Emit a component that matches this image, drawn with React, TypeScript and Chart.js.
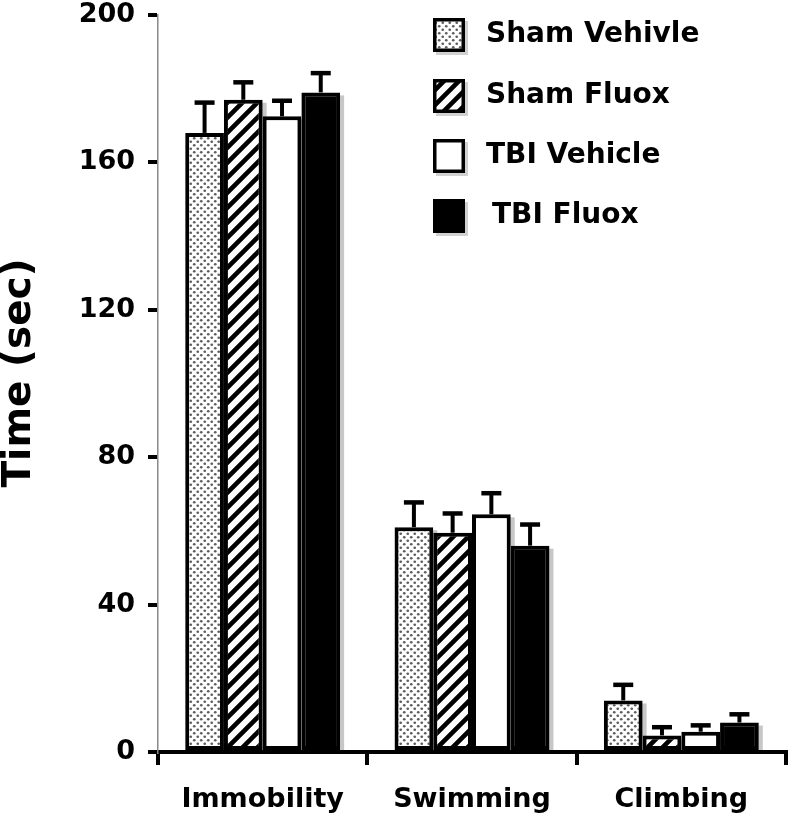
import React, { useEffect, useRef } from 'react';
import { Chart, registerables } from 'chart.js';

Chart.register(...registerables);

const categories = ['Immobility', 'Swimming', 'Climbing'];
const seriesNames = ['Sham Vehivle', 'Sham Fluox', 'TBI Vehicle', 'TBI Fluox'];
const shamVehicle = [168, 61, 14];
const shamVehicleErr = [8.5, 7, 4.5];
const shamFluox = [177, 59.5, 4.5];
const shamFluoxErr = [5, 5.5, 2.5];
const tbiVehicle = [172.5, 64.5, 5.5];
const tbiVehicleErr = [4.5, 6, 2];
const tbiFluox = [179, 56, 8];
const tbiFluoxErr = [5.5, 6, 2.5];
const yTickValues = [0, 40, 80, 120, 160, 200];
const yTitle = 'Time (sec)';

const FONT = "'DejaVu Sans', Verdana, sans-serif";

function makeDots(): CanvasPattern | string {
  const s = 7;
  const c = document.createElement('canvas');
  c.width = s;
  c.height = s;
  const g = c.getContext('2d');
  if (!g) return '#ccc';
  g.fillStyle = '#fff';
  g.fillRect(0, 0, s, s);
  g.fillStyle = '#5c5c5c';
  for (const [x, y] of [[1.75, 1.75], [5.25, 5.25]]) {
    g.beginPath();
    g.arc(x, y, 1.35, 0, Math.PI * 2);
    g.fill();
  }
  const p = g.createPattern(c, 'repeat');
  return p || '#ccc';
}

function makeHatch(): CanvasPattern | string {
  const s = 15;
  const c = document.createElement('canvas');
  c.width = s;
  c.height = s;
  const g = c.getContext('2d');
  if (!g) return '#888';
  g.fillStyle = '#fff';
  g.fillRect(0, 0, s, s);
  g.strokeStyle = '#000';
  g.lineWidth = 4.6;
  g.beginPath();
  g.moveTo(-3, s + 3);
  g.lineTo(s + 3, -3);
  g.moveTo(-4, 4);
  g.lineTo(4, -4);
  g.moveTo(s - 4, s + 4);
  g.lineTo(s + 4, s - 4);
  g.stroke();
  const p = g.createPattern(c, 'repeat');
  return p || '#888';
}

export default function App() {
  const ref = useRef<HTMLCanvasElement | null>(null);

  useEffect(() => {
    const canvas = ref.current;
    if (!canvas) return;
    const fills = [makeDots(), makeHatch(), '#ffffff', '#000000'];
    const values = [shamVehicle, shamFluox, tbiVehicle, tbiFluox];
    const errors = [shamVehicleErr, shamFluoxErr, tbiVehicleErr, tbiFluoxErr];

    const shadowPlugin = {
      id: 'barShadow',
      beforeDatasetsDraw(chart: any) {
        const ctx = chart.ctx;
        const area = chart.chartArea;
        ctx.save();
        ctx.beginPath();
        ctx.rect(area.left, 0, area.right - area.left + 10, area.bottom - 2);
        ctx.clip();
        ctx.fillStyle = 'rgba(0,0,0,0.22)';
        chart.data.datasets.forEach((_d: any, i: number) => {
          const meta = chart.getDatasetMeta(i);
          meta.data.forEach((el: any) => {
            const w = el.width;
            ctx.fillRect(el.x - w / 2 + 4, el.y + 3, w, el.base - el.y);
          });
        });
        ctx.restore();
      },
    };

    const errorPlugin = {
      id: 'errorBars',
      afterDatasetsDraw(chart: any) {
        const ctx = chart.ctx;
        const ys = chart.scales.y;
        ctx.save();
        ctx.strokeStyle = '#000';
        ctx.lineWidth = 4;
        ctx.lineCap = 'butt';
        chart.data.datasets.forEach((_d: any, i: number) => {
          const meta = chart.getDatasetMeta(i);
          meta.data.forEach((el: any, j: number) => {
            const v = values[i][j];
            const top = ys.getPixelForValue(v + errors[i][j]);
            const x = el.x;
            ctx.beginPath();
            ctx.moveTo(x, el.y);
            ctx.lineTo(x, top);
            ctx.stroke();
            ctx.lineWidth = 4.5;
            ctx.beginPath();
            ctx.moveTo(x - 10, top + 1);
            ctx.lineTo(x + 10, top + 1);
            ctx.stroke();
            ctx.lineWidth = 4;
          });
        });
        ctx.restore();
      },
    };

    const titlePlugin = {
      id: 'yTitle',
      afterDraw(chart: any) {
        const ctx = chart.ctx;
        ctx.save();
        ctx.translate(20, 373);
        ctx.rotate(-Math.PI / 2);
        ctx.fillStyle = '#000';
        ctx.font = `bold 39px ${FONT}`;
        ctx.textAlign = 'center';
        ctx.textBaseline = 'middle';
        ctx.fillText(yTitle, 0, 0);
        ctx.restore();
      },
    };

    const legendPlugin = {
      id: 'customLegend',
      afterDraw(chart: any) {
        const ctx = chart.ctx;
        const boxX = 433;
        const boxW = 32;
        const boxH = 34;
        const tops = [18, 79, 139, 199];
        const textX = [486, 486, 486, 492];
        ctx.save();
        seriesNames.forEach((name, i) => {
          const y = tops[i];
          ctx.fillStyle = 'rgba(0,0,0,0.18)';
          ctx.fillRect(boxX + 3, y + 3, boxW, boxH);
          ctx.fillStyle = fills[i] as any;
          ctx.fillRect(boxX, y, boxW, boxH);
          ctx.strokeStyle = '#000';
          ctx.lineWidth = 3.5;
          ctx.strokeRect(boxX + 1.75, y + 1.75, boxW - 3.5, boxH - 3.5);
          ctx.fillStyle = '#000';
          ctx.font = `bold 28px ${FONT}`;
          ctx.textBaseline = 'middle';
          ctx.textAlign = 'left';
          ctx.fillText(name, textX[i], y + boxH / 2);
        });
        ctx.restore();
      },
    };

    const chart = new Chart(canvas, {
      type: 'bar',
      data: {
        labels: categories,
        datasets: seriesNames.map((name, i) => ({
          label: name,
          data: values[i],
          backgroundColor: fills[i] as any,
          borderColor: '#000',
          borderWidth: 4,
          borderSkipped: false,
        })),
      },
      options: {
        responsive: false,
        animation: false,
        layout: { padding: { top: 15, right: 6, left: 0, bottom: 0 } },
        datasets: { bar: { categoryPercentage: 0.74, barPercentage: 1 } },
        plugins: {
          legend: { display: false },
          tooltip: { enabled: false },
        },
        scales: {
          x: {
            grid: {
              offset: true,
              drawOnChartArea: false,
              drawTicks: true,
              tickLength: 13,
              color: '#000',
              lineWidth: 4,
            },
            border: { color: '#000', width: 4 },
            ticks: {
              font: { family: FONT, weight: 'bold', size: 27 },
              color: '#000',
              padding: 19,
            },
            afterFit: (s: any) => {
              s.height = 66;
            },
          },
          y: {
            min: 0,
            max: 200,
            afterBuildTicks: (s: any) => {
              s.ticks = yTickValues.map((v) => ({ value: v }));
            },
            ticks: {
              font: { family: FONT, weight: 'bold', size: 27 },
              color: '#000',
              padding: 13,
            },
            grid: {
              drawOnChartArea: false,
              drawTicks: true,
              tickLength: 10,
              color: '#000',
              lineWidth: 4,
            },
            border: { color: '#8a8a8a', width: 1.5 },
            afterFit: (s: any) => {
              s.width = 158;
              s.paddingTop = 0;
              s.paddingBottom = 0;
            },
          },
        },
      },
      plugins: [shadowPlugin, errorPlugin, titlePlugin, legendPlugin],
    } as any);

    return () => chart.destroy();
  }, []);

  return (
    <div style={{ position: 'absolute', left: 0, top: 0, width: 792, height: 818, background: '#fff' }}>
      <canvas ref={ref} width={792} height={818} style={{ display: 'block' }} />
    </div>
  );
}
